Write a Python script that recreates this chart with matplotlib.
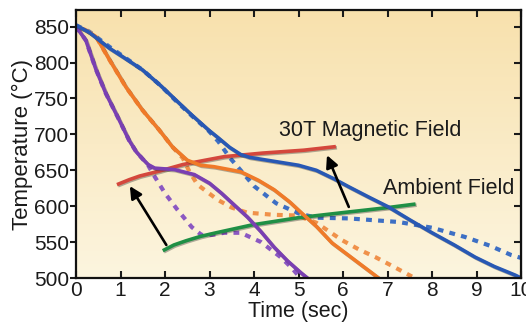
import numpy as np
import matplotlib
matplotlib.use("Agg")
import matplotlib.pyplot as plt
import matplotlib.patheffects as pe
from matplotlib.colors import LinearSegmentedColormap

plt.rcParams.update({
    'font.family': ['Liberation Sans', 'DejaVu Sans'],
    'font.size': 15,
    'text.color': '#1a1a1a',
    'axes.labelcolor': '#1a1a1a',
    'xtick.color': '#1a1a1a',
    'ytick.color': '#1a1a1a',
})

# data (time in sec, temperature in degC)
blue_t = [0, 0.3, 0.75, 1.1, 1.49, 1.9, 2.24, 2.6, 2.98, 3.2, 3.45, 3.7, 3.9,
          4.5, 5.0, 5.4, 5.8, 6.13, 6.6, 7.02, 7.5, 8.0, 8.5, 8.97, 9.4, 9.87, 10.0]
blue_T = [852, 842, 820, 806, 790, 768, 748, 727, 706, 695, 682, 672, 668,
          662, 657, 650, 638, 627, 612, 599, 581, 563, 546, 529, 516, 504, 500]

blue_d_t = [0, 0.3, 0.75, 1.1, 1.49, 1.9, 2.24, 2.6, 2.98, 3.2, 3.45, 3.7, 4.0,
            4.5, 5.0, 5.4, 6.13, 7.25, 8.0, 8.75, 9.3, 9.78, 10.0]
blue_d_T = [852, 843, 822, 807, 790, 768, 747, 726, 705, 690, 668, 650, 628,
            604, 590, 584, 583, 578, 570, 557, 545, 532, 528]

orange_t = [0, 0.2, 0.45, 0.75, 1.12, 1.49, 1.87, 2.16, 2.5, 2.8, 3.1, 3.7, 4.1,
            4.45, 4.8, 5.06, 5.4, 5.75, 6.2, 6.5, 6.8]
orange_T = [850, 846, 836, 804, 766, 734, 706, 683, 664, 657, 655, 648, 636,
            623, 606, 591, 572, 549, 528, 514, 500]

orange_d_t = [0, 0.2, 0.45, 0.75, 1.12, 1.49, 1.87, 2.16, 2.4, 2.55, 2.73, 3.18,
              3.5, 3.85, 4.45, 4.97, 5.4, 5.97, 6.35, 6.73, 7.1, 7.4, 7.55]
orange_d_T = [850, 846, 836, 804, 766, 734, 706, 683, 667, 648, 630, 609,
              598, 591, 588, 587, 577, 553, 540, 529, 517, 507, 502]

purple_t = [0, 0.22, 0.45, 0.67, 0.97, 1.19, 1.35, 1.48, 1.62, 1.77, 2.21, 2.66,
            3.0, 3.27, 3.55, 3.85, 4.15, 4.45, 4.75, 5.06, 5.2]
purple_T = [850, 831, 790, 757, 720, 692, 676, 667, 658, 653, 651, 644,
            632, 618, 602, 585, 565, 543, 524, 507, 500]

purple_d_t = [0, 0.22, 0.45, 0.67, 0.97, 1.19, 1.35, 1.48, 1.62, 1.77, 2.0, 2.28,
              2.6, 2.82, 3.05, 3.33, 3.7, 4.16, 4.6, 4.85, 5.0]
purple_d_T = [850, 831, 790, 757, 720, 692, 676, 667, 657, 641, 618, 595,
              571, 560, 560, 563, 563, 550, 529, 514, 503]

red_t = [0.92, 1.2, 1.43, 1.88, 2.4, 2.9, 3.33, 4.2, 5.12, 5.84]
red_T = [630, 637, 642, 649, 658, 664, 669, 674, 678, 683]

green_t = [1.95, 2.2, 2.48, 2.8, 3.15, 3.96, 5.0, 6.13, 7.0, 7.63]
green_T = [538, 546, 552, 558, 563, 574, 584, 592, 598, 603]

x_ticks = list(range(0, 11))
y_ticks = [500, 550, 600, 650, 700, 750, 800, 850]

fig = plt.figure(figsize=(5.26, 3.27), dpi=100)
ax = fig.add_axes([0.1445, 0.1498, 0.8460, 0.8192])
ax.set_xlim(0, 10)
ax.set_ylim(500, 873)

# warm gradient background
cmap = LinearSegmentedColormap.from_list('bg', ['#fcf5df', '#f8e1ad'])
grad = np.linspace(0, 1, 256).reshape(-1, 1)
ax.imshow(grad, extent=[0, 10, 500, 873], origin='lower', aspect='auto',
          cmap=cmap, zorder=0)

shadow = [pe.SimpleLineShadow(offset=(0.8, -0.8), shadow_color='#222222', alpha=0.35),
          pe.Normal()]
dot = (0, (1.4, 1.5))

ax.plot(blue_d_t, blue_d_T, color='#3d6fc4', lw=3.0, ls=dot, zorder=2)
ax.plot(orange_d_t, orange_d_T, color='#f0914a', lw=3.0, ls=dot, zorder=2)
ax.plot(purple_d_t, purple_d_T, color='#8b58c2', lw=3.0, ls=dot, zorder=2)

ax.plot(red_t, red_T, color='#d4473c', lw=2.6, zorder=3, path_effects=shadow,
        solid_capstyle='butt')
ax.plot(green_t, green_T, color='#1f8f45', lw=2.6, zorder=3, path_effects=shadow,
        solid_capstyle='butt')

ax.plot(orange_t, orange_T, color='#f07a28', lw=2.6, zorder=4, path_effects=shadow)
ax.plot(purple_t, purple_T, color='#7a3fb2', lw=2.6, zorder=4, path_effects=shadow)
ax.plot(blue_t, blue_T, color='#2858b4', lw=2.6, zorder=4, path_effects=shadow)

arrow = dict(arrowstyle='-|>', color='black', lw=1.9, mutation_scale=18,
             shrinkA=0, shrinkB=0)
ax.annotate('', xy=(1.21, 628), xytext=(2.03, 546), arrowprops=arrow, zorder=5)
ax.annotate('', xy=(5.64, 671), xytext=(6.13, 599), arrowprops=arrow, zorder=5)

ax.text(4.56, 706, '30T Magnetic Field', fontsize=15.5, va='center', ha='left', zorder=6)
ax.text(6.91, 625, 'Ambient Field', fontsize=15.5, va='center', ha='left', zorder=6)

ax.set_xticks(x_ticks)
ax.set_yticks(y_ticks)
ax.set_xlabel('Time (sec)', labelpad=1, fontsize=15.5)
ax.set_ylabel('Temperature (°C)', labelpad=1, fontsize=16)

for s in ax.spines.values():
    s.set_linewidth(1.6)
    s.set_color('#111111')
    s.set_zorder(7)

ax.tick_params(axis='x', direction='in', top=True, length=5, width=1.5, pad=2)
ax.tick_params(axis='y', direction='out', length=4, width=1.5, pad=1)
ax2 = ax.secondary_yaxis('right')
ax2.set_yticks(y_ticks)
ax2.tick_params(direction='in', length=5, width=1.5, labelright=False)

fig.savefig('out.png', dpi=100)
